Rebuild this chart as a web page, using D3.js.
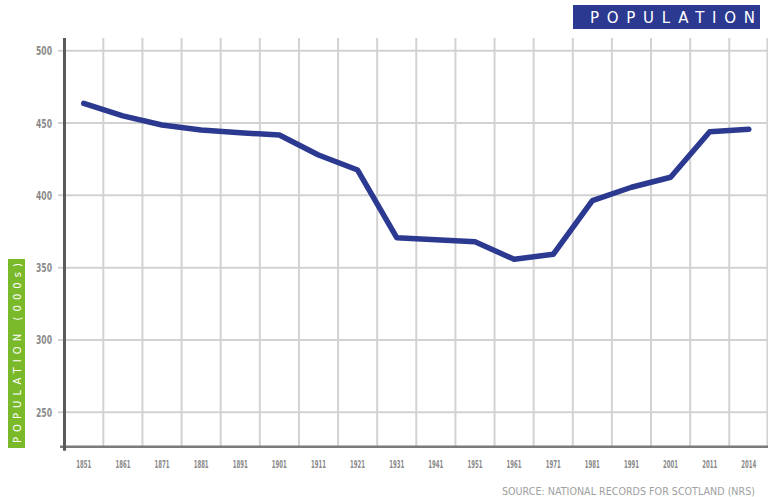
<!DOCTYPE html>
<html>

<head>
  <meta http-equiv="content-type" content="text/html; charset=utf-8">
  <title>Population</title>
  <style>
    body { margin: 0; background: #fff; }
    svg#canvas { display: block; }
  </style>
</head>

<body>
  <svg id="canvas"></svg>

  <script src="https://d3js.org/d3.v7.min.js"></script>
  <script>

    // values (thousands)
    const years = ["1851", "1861", "1871", "1881", "1891", "1901", "1911", "1921", "1931",
      "1941", "1951", "1961", "1971", "1981", "1991", "2001", "2011", "2014"];
    const population = [463.6, 454.9, 448.6, 445.2, 443.3, 441.7, 427.9, 417.5, 370.7,
      369.3, 367.9, 355.8, 359.2, 396.3, 405.6, 412.5, 444.0, 445.7];
    const yTicks = [250, 300, 350, 400, 450, 500];

    const W = 768, H = 497;
    const svg = d3.select("svg#canvas").attr("width", W).attr("height", H);

    const x = d3.scaleBand().domain(years).range([64.2, 768.4]);
    const y = d3.scaleLinear().domain([250, 500]).range([412.3, 50.7]);
    const yBottom = y(226.2), yTop = 38;

    // grid
    const grid = svg.append("g").attr("stroke", "#d2d2d2").attr("stroke-width", 2);
    grid.selectAll(".vg")
      .data(years.slice(1).concat(["end"]))
      .enter().append("line")
      .attr("x1", d => d == "end" ? x.range()[1] - 1 : x(d))
      .attr("x2", d => d == "end" ? x.range()[1] - 1 : x(d))
      .attr("y1", yTop)
      .attr("y2", yBottom);

    grid.selectAll(".hg")
      .data(yTicks)
      .enter().append("line")
      .attr("x1", 58)
      .attr("x2", W)
      .attr("y1", d => y(d))
      .attr("y2", d => y(d));

    const condensed = "'DejaVu Sans Condensed', 'Liberation Sans Narrow', sans-serif";

    // y tick labels
    svg.append("g")
      .selectAll("text")
      .data(yTicks)
      .enter().append("text")
      .attr("x", 36)
      .attr("y", d => y(d) + 4.5)
      .attr("textLength", 16)
      .attr("lengthAdjust", "spacingAndGlyphs")
      .style("font-family", condensed)
      .style("font-size", "13px")
      .style("font-weight", "bold")
      .style("fill", "#8a8a8a")
      .text(d => d);

    // x axis line
    svg.append("line")
      .attr("x1", 60).attr("x2", W)
      .attr("y1", yBottom).attr("y2", yBottom)
      .attr("stroke", "#7a7a7a").attr("stroke-width", 2.5);

    // y axis line
    svg.append("line")
      .attr("x1", 64.5).attr("x2", 64.5)
      .attr("y1", yTop).attr("y2", yBottom + 4)
      .attr("stroke", "#5a5a5a").attr("stroke-width", 3);

    // x tick labels
    svg.append("g")
      .selectAll("text")
      .data(years)
      .enter().append("text")
      .attr("x", d => x(d) + x.bandwidth() / 2 - 7.5)
      .attr("y", 467.5)
      .attr("textLength", 15)
      .attr("lengthAdjust", "spacingAndGlyphs")
      .style("font-family", condensed)
      .style("font-size", "11px")
      .style("font-weight", "bold")
      .style("fill", "#8a8a8a")
      .text(d => d);

    // population line
    const line = d3.line()
      .x((d, i) => x(years[i]) + x.bandwidth() / 2)
      .y(d => y(d));

    svg.append("path")
      .datum(population)
      .attr("d", line)
      .attr("fill", "none")
      .attr("stroke", "#2b3990")
      .attr("stroke-width", 5.5)
      .attr("stroke-linejoin", "round")
      .attr("stroke-linecap", "round");

    // title box
    svg.append("rect")
      .attr("x", 573).attr("y", 5).attr("width", 187).attr("height", 24)
      .attr("fill", "#2b3990");
    svg.append("text")
      .attr("x", 590).attr("y", 23)
      .attr("textLength", 165)
      .attr("lengthAdjust", "spacing")
      .style("font-family", "'DejaVu Sans', sans-serif")
      .style("font-size", "15px")
      .style("fill", "#fff")
      .text("POPULATION");

    // y axis label box
    svg.append("rect")
      .attr("x", 8).attr("y", 259).attr("width", 17).attr("height", 189)
      .attr("fill", "#7ab929");
    svg.append("text")
      .attr("transform", "translate(20.5,443) rotate(-90)")
      .attr("textLength", 180)
      .attr("lengthAdjust", "spacing")
      .style("font-family", "'DejaVu Sans', sans-serif")
      .style("font-size", "10px")
      .style("fill", "#fff")
      .text("POPULATION (000s)");

    // source
    svg.append("text")
      .attr("x", 502).attr("y", 495)
      .attr("textLength", 253)
      .attr("lengthAdjust", "spacingAndGlyphs")
      .style("font-family", "'DejaVu Sans', sans-serif")
      .style("font-size", "10px")
      .style("fill", "#a0a0a0")
      .text("SOURCE: NATIONAL RECORDS FOR SCOTLAND (NRS)");

  </script>
</body>

</html>
